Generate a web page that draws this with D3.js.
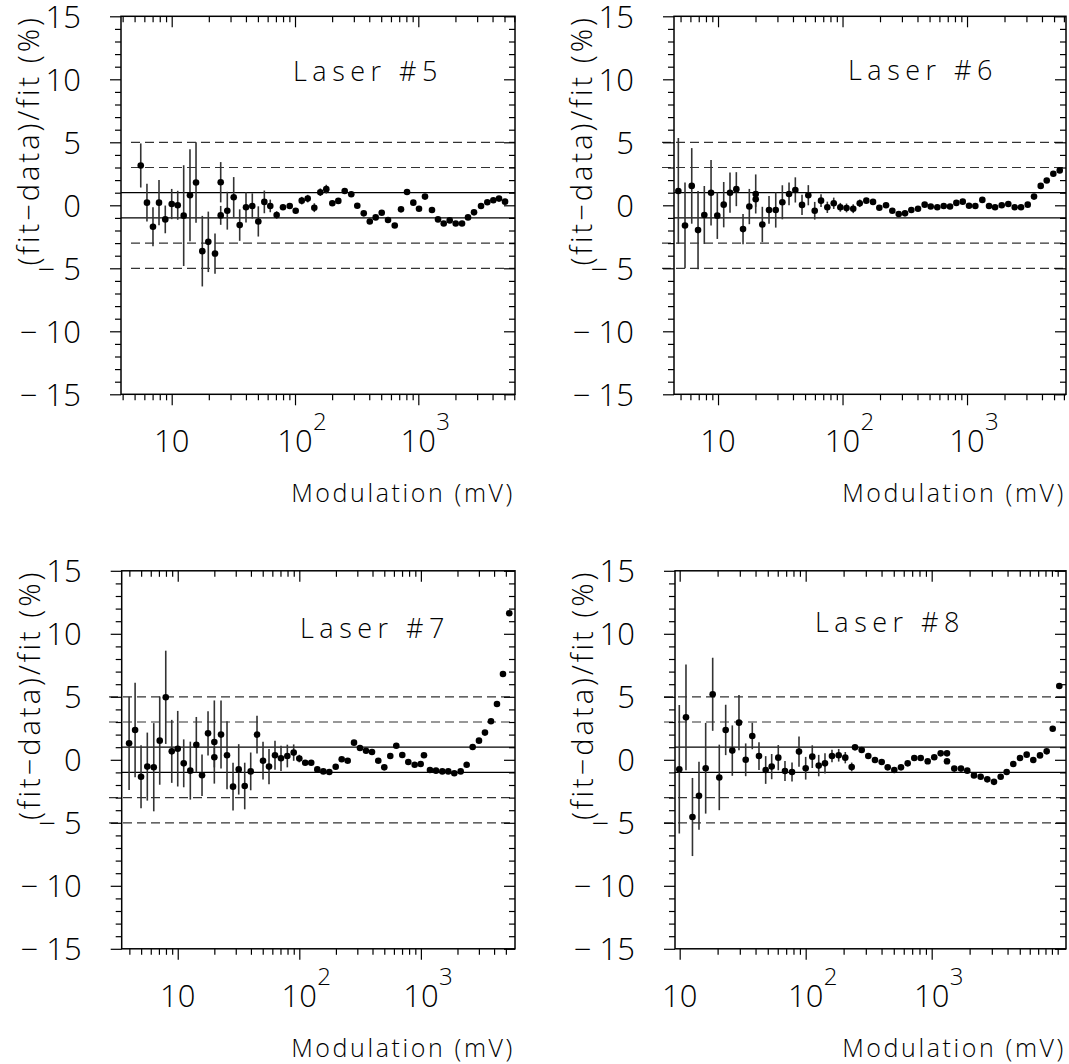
<!DOCTYPE html>
<html>
<head>
<meta charset="utf-8">
<script src="https://cdn.jsdelivr.net/npm/d3@7"></script>
<style>
body { margin: 0; background: #fff; }
svg { display: block; }
text { font-family: "Open Sans", Roboto, sans-serif; font-weight: 300; fill: #000; }
</style>
</head>
<body>
<div id="chart"></div>
<script>
// values: modulation (mV), residual (%) and error (%)
var titles = ["Laser #5", "Laser #6", "Laser #7", "Laser #8"];

var laser5X = [5.61, 6.30, 7.05, 7.89, 8.87, 10.0, 11.19, 12.51, 14.07, 15.75, 17.71, 19.81, 22.45, 24.97, 24.97, 28.24, 31.83, 35.6, 40.05, 45.05, 50.4, 56.4, 63.0, 71.0, 79.9, 90.6, 101.3, 113.4, 126.8, 143.4, 160.4, 179.4, 200.7, 224.5, 253, 286, 320, 361, 404, 451, 505, 568, 644, 724, 810, 911, 1013, 1133, 1291, 1445, 1607, 1797, 2011, 2262, 2530, 2830, 3225, 3627, 4058, 4513, 5050];
var laser5Y = [3.16, 0.21, -1.70, 0.21, -1.12, 0.10, 0.00, -0.82, 0.80, 1.81, -3.64, -2.90, -3.83, 1.83, -0.80, -0.43, 0.64, -1.57, -0.16, -0.05, -1.28, 0.27, -0.05, -0.77, -0.16, -0.05, -0.43, 0.37, 0.53, -0.19, 1.04, 1.28, 0.16, 0.35, 1.14, 0.88, -0.03, -0.64, -1.28, -0.96, -0.59, -1.17, -1.60, -0.32, 1.06, 0.21, -0.27, 0.69, -0.37, -1.12, -1.44, -1.20, -1.44, -1.44, -0.96, -0.56, -0.05, 0.24, 0.40, 0.53, 0.29];
var laser5E = [1.75, 1.5, 1.55, 1.8, 1.1, 1.2, 1.15, 4.0, 3.65, 3.2, 2.8, 2.4, 1.6, 1.6, 0.75, 1.5, 1.6, 1.25, 1.2, 1.0, 1.2, 0.9, 0.5, 0.3, 0.2, 0.2, 0.2, 0.3, 0.3, 0.35, 0.3, 0.35, 0.2, 0.2, 0.2, 0.2, 0.15, 0.15, 0.15, 0.15, 0.15, 0.15, 0.15, 0.15, 0.15, 0.15, 0.15, 0.15, 0.15, 0.15, 0.15, 0.15, 0.15, 0.15, 0.15, 0.15, 0.15, 0.15, 0.15, 0.15, 0.15];

var laser6X = [4.80, 5.43, 6.15, 6.91, 7.76, 8.79, 9.87, 11.11, 12.48, 14.03, 15.88, 17.84, 20.08, 20.08, 22.69, 25.68, 29.08, 32.86, 37.18, 41.78, 47.28, 53.12, 59.8, 67.2, 75.5, 85.0, 96.0, 107.7, 121.9, 137.5, 155.3, 175.8, 197.5, 223.6, 251.2, 282.8, 317.7, 357, 404, 457, 511, 577, 650, 730, 821, 924, 1038, 1166, 1327, 1502, 1679, 1900, 2146, 2416, 2715, 3073, 3452, 3908, 4368, 4934, 5554];
var laser6Y = [1.14, -1.60, 1.54, -1.97, -0.77, 1.00, -0.82, 0.05, 1.00, 1.28, -1.89, -0.10, 0.90, 0.48, -1.52, -0.37, -0.37, 0.24, 0.90, 1.22, 0.03, 0.80, -0.43, 0.37, -0.16, 0.16, -0.16, -0.21, -0.27, 0.16, 0.37, 0.27, -0.19, 0.00, -0.43, -0.69, -0.64, -0.37, -0.27, 0.05, -0.10, -0.16, -0.05, -0.10, 0.19, 0.29, -0.03, -0.05, 0.43, -0.05, -0.16, 0.00, 0.10, -0.16, -0.16, 0.05, 0.69, 1.54, 1.97, 2.50, 2.77];
var laser6E = [4.2, 3.4, 3.0, 3.1, 2.3, 2.6, 1.85, 1.8, 1.6, 1.35, 1.2, 1.4, 1.55, 0.6, 1.4, 1.1, 1.4, 1.35, 0.9, 1.0, 0.8, 0.8, 0.7, 0.5, 0.45, 0.45, 0.35, 0.35, 0.35, 0.3, 0.2, 0.2, 0.2, 0.2, 0.15, 0.15, 0.15, 0.15, 0.15, 0.15, 0.15, 0.15, 0.15, 0.15, 0.15, 0.15, 0.15, 0.15, 0.15, 0.15, 0.15, 0.15, 0.15, 0.15, 0.15, 0.15, 0.15, 0.15, 0.15, 0.15, 0.15];

var laser7X = [3.98, 4.46, 4.99, 5.62, 6.35, 7.11, 7.97, 8.93, 10.0, 11.2, 12.69, 14.22, 15.84, 17.75, 20.0, 20.0, 22.7, 25.43, 28.5, 31.74, 35.56, 39.83, 44.88, 50.29, 56.33, 63.1, 70.7, 79.7, 89.9, 100, 111.8, 125.3, 140.6, 157.6, 176.5, 199.2, 223.2, 250, 281.8, 315.6, 353.6, 396.2, 446.3, 500, 560.2, 627.7, 703, 788, 889, 996, 1060, 1188, 1331, 1500, 1680, 1883, 2125, 2380, 2667, 3005, 3366, 3772, 4226, 4734, 5333];
var laser7Y = [1.31, 2.37, -1.34, -0.54, -0.59, 1.52, 4.96, 0.67, 0.88, -0.28, -0.86, 1.20, -1.23, 2.10, 1.41, 0.20, 2.00, 0.36, -2.13, -0.76, -2.08, -0.92, 2.00, -0.07, -0.54, 0.36, 0.12, 0.30, 0.57, 0.10, -0.23, -0.23, -0.76, -0.92, -0.97, -0.55, 0.04, -0.07, 1.36, 0.94, 0.72, 0.62, -0.07, -0.60, 0.30, 1.12, 0.38, -0.18, -0.39, -0.33, 0.36, -0.81, -0.86, -0.92, -0.92, -1.07, -0.92, -0.39, 1.02, 1.52, 2.16, 3.06, 4.43, 6.81, 11.63];
var laser7E = [3.7, 3.75, 2.5, 2.7, 3.5, 3.5, 3.7, 2.5, 3.0, 1.9, 2.3, 2.2, 1.65, 1.75, 3.3, 0.8, 2.7, 2.7, 1.9, 2.0, 1.85, 1.5, 1.5, 1.5, 1.4, 1.15, 1.0, 0.9, 0.65, 0.3, 0.15, 0.15, 0.15, 0.15, 0.15, 0.15, 0.15, 0.15, 0.15, 0.15, 0.15, 0.15, 0.15, 0.15, 0.15, 0.15, 0.15, 0.15, 0.15, 0.15, 0.15, 0.15, 0.15, 0.15, 0.15, 0.15, 0.15, 0.15, 0.15, 0.15, 0.15, 0.15, 0.15, 0.15, 0.15];

var laser8X = [9.93, 11.22, 12.63, 14.23, 16.08, 18.28, 20.62, 23.18, 26.16, 29.55, 33.41, 37.69, 42.6, 48.14, 53.73, 60.6, 68.5, 77.9, 88.5, 100, 112.8, 126.9, 142.3, 161.7, 182.8, 206.2, 231.8, 246.3, 278.3, 314, 354.8, 401.1, 447.7, 505, 570.6, 645, 727.6, 818, 929.7, 1048, 1179, 1323, 1323, 1511, 1708, 1917, 2167, 2448, 2762, 3122, 3528, 3937, 4442, 5021, 5675, 6403, 7237, 8179, 9128, 10300];
var laser8Y = [-0.75, 3.37, -4.54, -2.85, -0.67, 5.2, -1.4, 2.37, 0.73, 2.95, 0.0, 1.89, 0.30, -0.81, -0.54, 0.17, -0.89, -0.97, 0.65, -0.67, 0.25, -0.46, -0.28, 0.30, 0.36, 0.17, -0.57, 0.99, 0.78, 0.30, -0.02, -0.17, -0.60, -0.81, -0.60, -0.28, 0.14, 0.14, -0.12, 0.20, 0.51, 0.51, -0.12, -0.70, -0.70, -0.86, -1.24, -1.34, -1.55, -1.75, -1.34, -0.97, -0.33, 0.14, 0.41, -0.02, 0.35, 0.67, 2.47, 5.86];
var laser8E = [5.1, 4.2, 3.1, 2.7, 3.6, 2.9, 2.6, 2.0, 2.0, 2.2, 1.3, 1.05, 1.1, 1.1, 1.0, 1.0, 0.8, 0.75, 1.2, 0.9, 0.9, 0.85, 0.8, 0.5, 0.5, 0.45, 0.35, 0.15, 0.15, 0.15, 0.15, 0.15, 0.15, 0.15, 0.15, 0.15, 0.15, 0.15, 0.15, 0.15, 0.15, 0.15, 0.15, 0.15, 0.15, 0.15, 0.15, 0.15, 0.15, 0.15, 0.15, 0.15, 0.15, 0.15, 0.15, 0.15, 0.15, 0.15, 0.15, 0.15];

var yTickValues = [-15, -10, -5, 0, 5, 10, 15];
var xMajorTicks = [10, 100, 1000];
var xTickExponents = ["", "2", "3"];
var solidLevels = [-1, 1];
var dashedLevels = [-5, -3, 3, 5];
var xTitle = "Modulation (mV)";
var yTitle = "(fit\u2212data)/fit (%)";

// frame of each panel in pixels, x range of its log axis (mV), title spot, dashed-line start
var panels = [
  { title: titles[0], xs: laser5X, ys: laser5Y, es: laser5E, l: 121, t: 16.3, r: 515, b: 394.3, dom: [3.88, 6083], tx: 293, ty: 81, dx: 131 },
  { title: titles[1], xs: laser6X, ys: laser6Y, es: laser6E, l: 674, t: 16.3, r: 1066, b: 394.3, dom: [4.43, 6237], tx: 848, ty: 80, dx: 662 },
  { title: titles[2], xs: laser7X, ys: laser7Y, es: laser7E, l: 121.7, t: 570.8, r: 515, b: 948.8, dom: [3.46, 5945], tx: 300, ty: 638, dx: 109 },
  { title: titles[3], xs: laser8X, ys: laser8Y, es: laser8E, l: 675, t: 570.8, r: 1066, b: 948.8, dom: [9.18, 11640], tx: 815, ty: 632, dx: 664 }
];

var svg = d3.select("#chart")
  .append("svg")
  .attr("width", 1069)
  .attr("height", 1064);

panels.forEach(function (p) {
  var x = d3.scaleLog().domain(p.dom).range([p.l, p.r]);
  var y = d3.scaleLinear().domain([-15, 15]).range([p.b, p.t]);
  var g = svg.append("g");
  var pts = p.xs.map(function (v, i) { return { x: v, y: p.ys[i], e: p.es[i] }; });

  // reference bands
  g.selectAll(".solid").data(solidLevels).enter().append("line")
    .attr("x1", p.l).attr("x2", p.r)
    .attr("y1", d => y(d)).attr("y2", d => y(d))
    .attr("stroke", "#000").attr("stroke-width", 1.2);
  g.selectAll(".dash").data(dashedLevels).enter().append("line")
    .attr("x1", p.dx).attr("x2", p.r)
    .attr("y1", d => y(d)).attr("y2", d => y(d))
    .attr("stroke", "#333").attr("stroke-width", 1.2)
    .attr("stroke-dasharray", "9,5");

  // error bars and points
  g.selectAll(".err").data(pts).enter().append("line")
    .attr("x1", d => x(d.x)).attr("x2", d => x(d.x))
    .attr("y1", d => y(d.y - d.e)).attr("y2", d => y(d.y + d.e))
    .attr("stroke", "#333").attr("stroke-width", 1.6);
  g.selectAll(".pt").data(pts).enter().append("circle")
    .attr("cx", d => x(d.x)).attr("cy", d => y(d.y))
    .attr("r", 3.3).attr("fill", "#000");

  // axes: minor then major ticks on all four sides
  var minorY = d3.range(-15, 16).filter(v => v % 5 !== 0);
  var minorX = x.ticks().filter(v => xMajorTicks.indexOf(v) < 0);
  var axes = [
    ["translate(" + p.l + ",0)", d3.axisLeft(y).tickValues(minorY).tickSize(6)],
    ["translate(" + p.l + ",0)", d3.axisLeft(y).tickValues(yTickValues).tickSize(11).tickPadding(29)
      .tickFormat(d => d < 0 ? "\u2212 " + Math.abs(d) : d)],
    ["translate(" + p.r + ",0)", d3.axisRight(y).tickValues(minorY).tickSize(-6)],
    ["translate(" + p.r + ",0)", d3.axisRight(y).tickValues(yTickValues).tickSize(-11)],
    ["translate(0," + p.b + ")", d3.axisBottom(x).tickValues(minorX).tickSize(6)],
    ["translate(0," + p.b + ")", d3.axisBottom(x).tickValues(xMajorTicks).tickSize(11)],
    ["translate(0," + p.t + ")", d3.axisTop(x).tickValues(minorX).tickSize(-6)],
    ["translate(0," + p.t + ")", d3.axisTop(x).tickValues(xMajorTicks).tickSize(-11)]
  ];
  axes.forEach(function (a, i) {
    var ag = g.append("g").attr("transform", a[0]).call(a[1]);
    ag.select(".domain").remove();
    ag.selectAll("line").attr("stroke", "#000").attr("stroke-width", 1.2);
    if (i !== 1) ag.selectAll("text").remove();
    else ag.selectAll("text").attr("font-size", 31).attr("dy", "0.36em")
      .attr("font-family", null).attr("fill", "#000");
  });

  // frame
  g.append("rect")
    .attr("x", p.l).attr("y", p.t)
    .attr("width", p.r - p.l).attr("height", p.b - p.t)
    .attr("fill", "none").attr("stroke", "#000").attr("stroke-width", 1.5);

  // decade labels 10, 10^2, 10^3
  xMajorTicks.forEach(function (v, i) {
    g.append("text").attr("x", x(v)).attr("y", p.b + 58)
      .attr("text-anchor", "middle").attr("font-size", 31).text("10");
    if (xTickExponents[i]) {
      g.append("text").attr("x", x(v) + 18).attr("y", p.b + 36)
        .attr("font-size", 24).text(xTickExponents[i]);
    }
  });

  g.append("text").attr("x", p.r).attr("y", p.b + 108)
    .attr("text-anchor", "end").attr("font-size", 25)
    .attr("letter-spacing", 2.6).text(xTitle);

  g.append("text")
    .attr("transform", "translate(" + (p.l - 82) + "," + (p.t + 124) + ") rotate(-90)")
    .attr("text-anchor", "middle").attr("font-size", 29)
    .attr("letter-spacing", 3).text(yTitle);

  g.append("text").attr("x", p.tx).attr("y", p.ty)
    .attr("font-size", 27).attr("letter-spacing", 5.5).text(p.title);
});
</script>
</body>
</html>
